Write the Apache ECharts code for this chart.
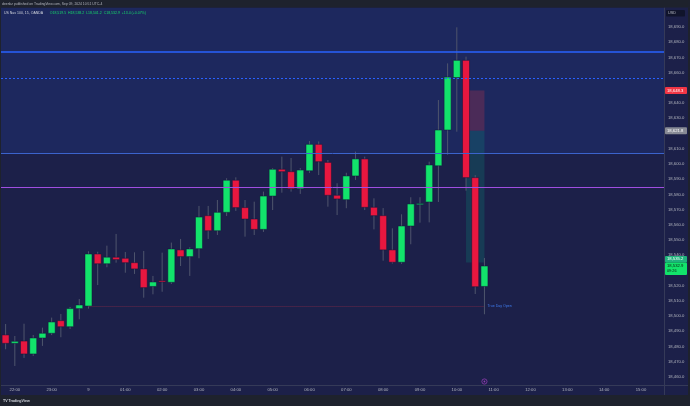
<!DOCTYPE html>
<html>
<head>
<meta charset="utf-8">
<script src="https://cdn.jsdelivr.net/npm/echarts@6/dist/echarts.min.js"></script>
<style>
html,body{margin:0;padding:0;background:#1e222d;}
#chart{width:690px;height:406px;}
</style>
</head>
<body>
<div id="chart"></div>
<script>
// 15-minute slots shown on the time axis (candles + empty future slots)
var times = ['21:45','22:00','22:15','22:30','22:45','23:00','23:15','23:30','23:45',
  '00:00','00:15','00:30','00:45','01:00','01:15','01:30','01:45','02:00','02:15','02:30','02:45',
  '03:00','03:15','03:30','03:45','04:00','04:15','04:30','04:45','05:00','05:15','05:30','05:45',
  '06:00','06:15','06:30','06:45','07:00','07:15','07:30','07:45','08:00','08:15','08:30','08:45',
  '09:00','09:15','09:30','09:45','10:00','10:15','10:30','10:45',
  '11:00','11:15','11:30','11:45','12:00','12:15','12:30','12:45','13:00','13:15','13:30','13:45',
  '14:00','14:15','14:30','14:45','15:00','15:15','15:30'];

// OHLC of the 53 candles (21:45 .. 10:45)
var opens  = [18487.6,18482.1,18483.6,18475.1,18485.6,18488.7,18497.0,18493.0,18504.9,18506.6,
  18540.8,18534.4,18538.7,18538.0,18535.1,18531.0,18519.5,18523.2,18522.2,18543.5,18539.1,
  18544.3,18566.0,18556.1,18568.2,18589.3,18571.3,18563.8,18557.0,18578.9,18596.5,18594.9,
  18583.7,18595.5,18612.9,18601.0,18579.4,18576.5,18592.1,18603.3,18571.5,18566.0,18543.5,
  18535.4,18559.2,18573.7,18575.0,18598.8,18622.3,18656.8,18668.1,18591.0,18519.5];
var closes = [18482.1,18483.4,18475.1,18485.6,18488.7,18496.1,18493.0,18504.9,18507.3,18540.8,
  18534.4,18538.7,18537.1,18535.1,18531.0,18518.7,18522.4,18522.6,18544.1,18539.1,18544.1,
  18565.1,18556.1,18568.2,18589.3,18571.3,18563.8,18557.0,18578.9,18596.5,18594.9,18583.7,
  18596.0,18612.9,18601.5,18579.4,18577.0,18592.1,18603.3,18571.5,18566.0,18543.5,18535.4,
  18559.2,18573.7,18574.0,18599.3,18622.3,18657.1,18668.1,18591.0,18519.3,18532.9];
var lows   = [18478.2,18467.2,18472.5,18473.8,18480.4,18487.5,18486.1,18491.5,18497.9,18504.9,
  18520.4,18532.1,18535.1,18528.5,18527.7,18512.1,18514.3,18516.0,18521.1,18532.9,18526.4,
  18538.0,18550.7,18553.3,18565.8,18569.1,18552.2,18553.3,18555.3,18569.7,18581.1,18581.8,
  18580.3,18594.1,18592.7,18571.9,18566.4,18570.9,18589.5,18569.7,18557.0,18536.4,18534.5,
  18534.3,18547.2,18561.4,18561.6,18575.0,18606.1,18621.2,18582.4,18514.5,18501.2];
var highs  = [18494.8,18486.9,18495.0,18487.6,18492.4,18499.0,18501.4,18506.0,18511.2,18542.6,
  18542.3,18546.3,18554.0,18542.1,18541.9,18542.8,18526.4,18541.7,18548.3,18550.7,18545.2,
  18572.4,18572.4,18576.3,18590.6,18591.2,18576.3,18575.2,18581.8,18597.3,18604.8,18603.9,
  18597.3,18615.1,18614.8,18602.6,18587.3,18594.2,18608.1,18604.8,18577.4,18571.0,18557.7,
  18566.9,18578.1,18578.1,18601.5,18642.0,18666.1,18689.8,18670.5,18592.7,18538.2];

// price-axis tick labels that are visible (others hidden behind price tags)
var priceTicks = [18460,18470,18480,18490,18500,18510,18520,18540,18550,18560,18570,
  18580,18590,18600,18610,18630,18640,18660,18670,18680,18690];

// drawn levels
var zoneTop = 18607.2;       // shaded zone bottom edge (blue line)
var levelSolid = 18673.6;    // solid blue
var levelDotted = 18656.5;   // dotted blue
var levelPurple = 18584.9;   // purple
var trueDayOpen = 18506.6;   // true day open
var stopPrice = 18648.3, entryPrice = 18621.8, targetPrice = 18535.2, lastPrice = 18532.9;

var GREEN = '#12e36b', RED = '#e8173f';
var FONT = 'Liberation Sans';

var candleData = opens.map(function (o, i) { return [i, o, closes[i], lows[i], highs[i]]; });

function fmt(v) {
  var s = v.toFixed(1), parts = s.split('.');
  return parts[0].replace(/\B(?=(\d{3})+(?!\d))/g, ',') + '.' + parts[1];
}

var chart = echarts.init(document.getElementById('chart'), null, {renderer: 'canvas'});

var option = {
  backgroundColor: '#1c2049',
  animation: false,
  grid: {left: 1, right: 26, top: 8, bottom: 21},
  xAxis: {
    type: 'category', data: times, boundaryGap: true,
    axisLine: {show: false}, axisTick: {show: false}, splitLine: {show: false},
    axisLabel: {
      color: '#b2b5be', fontSize: 4.2, fontFamily: FONT, margin: 3,
      interval: function (i, v) { return v.slice(3) === '00'; },
      formatter: function (v) { return v === '00:00' ? '9' : v; }
    }
  },
  yAxis: {
    type: 'value', position: 'right', min: 18454.7, max: 18702.5, scale: true,
    axisLine: {show: false}, axisTick: {show: false}, splitLine: {show: false},
    axisLabel: {
      color: '#b2b5be', fontSize: 4.2, fontFamily: FONT, margin: 4,
      customValues: priceTicks,
      formatter: function (v) { return fmt(v); }
    }
  },
  series: [{
    type: 'custom',
    data: candleData,
    encode: {x: 0, y: [1, 2, 3, 4]},
    clip: true,
    renderItem: function (params, api) {
      var idx = api.value(0), o = api.value(1), c = api.value(2), l = api.value(3), h = api.value(4);
      var pH = api.coord([idx, h]), pL = api.coord([idx, l]);
      var pO = api.coord([idx, o]), pC = api.coord([idx, c]);
      var bw = api.size([1, 0])[0] * 0.76;
      var top = Math.min(pO[1], pC[1]), bot = Math.max(pO[1], pC[1]);
      var bh = Math.max(bot - top, 1.2);
      var x = pH[0];
      return {
        type: 'group',
        children: [
          {type: 'line', shape: {x1: x, y1: pH[1], x2: x, y2: pL[1]},
            style: {stroke: '#4f556d', lineWidth: 1}},
          {type: 'rect', shape: {x: x - bw / 2, y: top, width: bw, height: bh},
            style: {fill: c >= o ? GREEN : RED, stroke: '#12163a', lineWidth: 0.5}}
        ]
      };
    },
    markArea: {
      silent: true,
      data: [
        [{yAxis: zoneTop, itemStyle: {color: 'rgba(36,70,170,0.22)'}}, {yAxis: 18702.5}],
        [{xAxis: '10:15', yAxis: stopPrice, itemStyle: {color: 'rgba(242,54,69,0.22)'}}, {xAxis: '10:45', yAxis: entryPrice}],
        [{xAxis: '10:15', yAxis: entryPrice, itemStyle: {color: 'rgba(8,153,129,0.22)'}}, {xAxis: '10:45', yAxis: targetPrice}]
      ]
    },
    markLine: {
      silent: true, symbol: 'none', animation: false,
      label: {show: false},
      data: [
        {yAxis: levelSolid, lineStyle: {color: '#2962ff', width: 1.5, type: 'solid'}},
        {yAxis: levelDotted, lineStyle: {color: '#2962ff', width: 1, type: [2, 2]}},
        {yAxis: zoneTop, lineStyle: {color: '#3b63cc', width: 1, type: 'solid'}},
        {yAxis: levelPurple, lineStyle: {color: '#a04ee0', width: 1, type: 'solid'}},
        [{xAxis: '00:00', yAxis: trueDayOpen, lineStyle: {color: '#6e2848', width: 1, type: [1, 1]}},
         {xAxis: '10:45', yAxis: trueDayOpen,
          label: {show: true, position: 'end', formatter: 'True Day Open', color: '#3f7cf0',
            fontSize: 3.6, fontFamily: FONT, distance: 3}}]
      ]
    }
  }]
};
chart.setOption(option);

function py(v) { return chart.convertToPixel({yAxisIndex: 0}, v); }
function px(c) { return chart.convertToPixel({xAxisIndex: 0}, c); }

function tag(value, text, bg, fg, yOverride, h) {
  var y = (yOverride != null ? yOverride : py(value) - 3.5);
  return {
    type: 'group', z: 100,
    children: [
      {type: 'rect', z: 100, shape: {x: 665, y: y, width: 22, height: h || 7, r: 1}, style: {fill: bg}},
      {type: 'text', z: 101, style: {x: 667, y: y + (h || 7) / 2, text: text, fill: fg,
        font: '4.2px ' + FONT, verticalAlign: 'middle'}}
    ]
  };
}

var lastY = py(lastPrice);
var graphics = [
  // header bar
  {type: 'rect', z: 100, shape: {x: 0, y: 0, width: 690, height: 7.5}, style: {fill: '#1e222d'}},
  {type: 'text', z: 101, style: {x: 2, y: 4, text: 'deenkz published on TradingView.com, Sep 09, 2024 10:51 UTC-4',
    fill: '#b2b5be', font: '3.4px ' + FONT, verticalAlign: 'middle'}},
  // bottom bar
  {type: 'rect', z: 100, shape: {x: 0, y: 395, width: 690, height: 11}, style: {fill: '#1e222d'}},
  {type: 'text', z: 101, style: {x: 3, y: 400.5, text: 'TV TradingView', fill: '#d1d4dc',
    font: 'bold 3.6px ' + FONT, verticalAlign: 'middle'}},
  // edges
  {type: 'rect', z: 100, shape: {x: 0, y: 7.5, width: 1, height: 388}, style: {fill: '#1e222d'}},
  {type: 'rect', z: 100, shape: {x: 688, y: 7.5, width: 2, height: 388}, style: {fill: '#1e222d'}},
  // separators
  {type: 'line', z: 99, shape: {x1: 664.5, y1: 7.5, x2: 664.5, y2: 395}, style: {stroke: '#353a58', lineWidth: 1}},
  {type: 'line', z: 99, shape: {x1: 1, y1: 385.5, x2: 688, y2: 385.5}, style: {stroke: '#353a58', lineWidth: 1}},
  // symbol line
  {type: 'text', z: 101, style: {x: 4, y: 13, verticalAlign: 'middle',
    text: '{n|US Nas 100, 15, OANDA}  {g|O18,519.5  H18,538.2  L18,501.2  C18,532.9  +13.4 (+0.07%)}',
    rich: {
      n: {fill: '#d1d4dc', font: '3.5px ' + FONT},
      g: {fill: '#17d86a', font: '3.5px ' + FONT}
    }}},
  // USD box
  {type: 'rect', z: 100, shape: {x: 666, y: 10, width: 19, height: 6.5, r: 1}, style: {fill: '#10142b'}},
  {type: 'text', z: 101, style: {x: 668, y: 13.3, text: 'USD', fill: '#b2b5be', font: '3.8px ' + FONT, verticalAlign: 'middle'}},
  // price tags
  tag(stopPrice, fmt(stopPrice), '#f23645', '#ffffff'),
  tag(entryPrice, fmt(entryPrice), '#878a95', '#ffffff'),
  tag(targetPrice, fmt(targetPrice), '#1fb37c', '#ffffff', lastY - 10, 6.5),
  {type: 'group', z: 100, children: [
    {type: 'rect', z: 100, shape: {x: 665, y: lastY - 3.5, width: 22, height: 12.5, r: 1}, style: {fill: GREEN}},
    {type: 'text', z: 101, style: {x: 667, y: lastY, text: fmt(lastPrice), fill: '#0c1a12', font: '4.2px ' + FONT, verticalAlign: 'middle'}},
    {type: 'text', z: 101, style: {x: 667, y: lastY + 5, text: '09:26', fill: '#0c1a12', font: '3.8px ' + FONT, verticalAlign: 'middle'}}
  ]},
  // event marker on the time axis
  {type: 'circle', z: 101, shape: {cx: px('10:45'), cy: 381.5, r: 2.6}, style: {fill: '#1c2049', stroke: '#8e3bb0', lineWidth: 0.8}},
  {type: 'circle', z: 102, shape: {cx: px('10:45'), cy: 381.5, r: 0.9}, style: {fill: '#8e3bb0'}}
];
chart.setOption({graphic: graphics});
</script>
</body>
</html>
